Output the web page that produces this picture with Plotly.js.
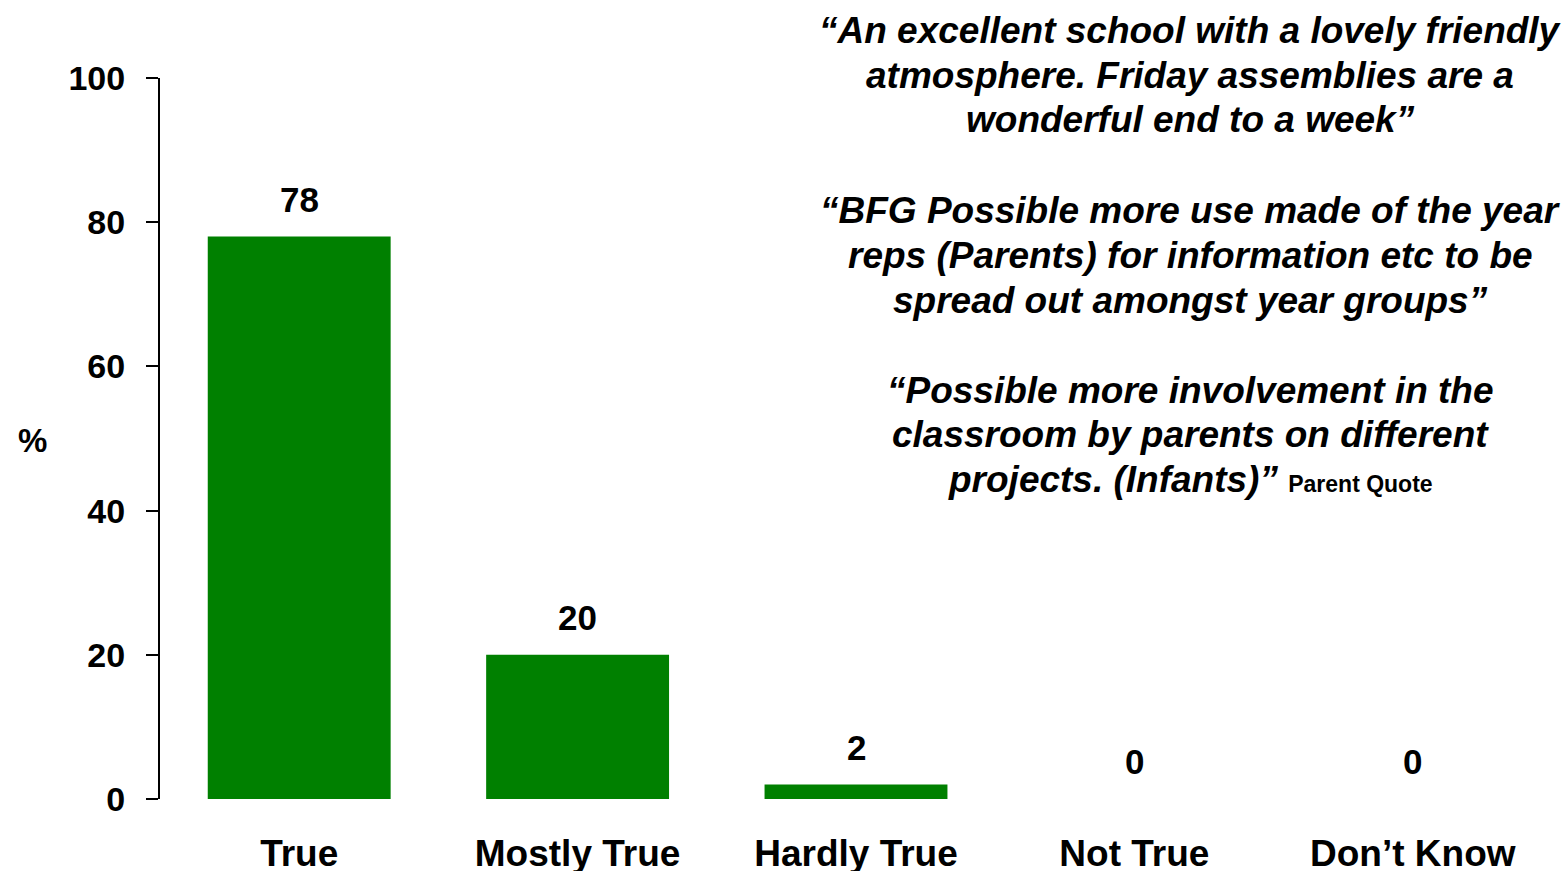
<!DOCTYPE html>
<html>
<head>
<meta charset="utf-8">
<script src="https://cdn.plot.ly/plotly-3.0.1.min.js"></script>
<style>html,body{margin:0;padding:0;background:#fff;}#chart{width:1566px;height:871px;}</style>
</head>
<body>
<div id="chart"></div>
<script>
const categories = ["True", "Mostly True", "Hardly True", "Not True", "Don\u2019t Know"];
const values = [78, 20, 2, 0, 0];
const yTicks = [0, 20, 40, 60, 80, 100];
const quoteLines = [
  "<i>\u201cAn excellent school with a lovely friendly</i>",
  "<i>atmosphere. Friday assemblies are a</i>",
  "<i>wonderful end to a week\u201d</i>",
  "<i>\u201cBFG Possible more use made of the year</i>",
  "<i>reps (Parents) for information etc to be</i>",
  "<i>spread out amongst year groups\u201d</i>",
  "<i>\u201cPossible more involvement in the</i>",
  "<i>classroom by parents on different</i>",
  "<i>projects. (Infants)\u201d</i> <span style=\"font-size:23px\">Parent Quote</span>"
];
const quoteLineY = [30, 75, 120, 210, 255, 300, 390, 434, 479];

const FONT = "Liberation Sans, Arial, sans-serif";
const W = 1566, H = 871;
const m = {l: 160, r: 14, t: 78, b: 72};
const plotH = H - m.t - m.b;
const pyToPaper = py => (H - m.b - py) / plotH;

const annotations = [];
categories.forEach((c, i) => {
  annotations.push({
    x: c, y: values[i], xref: 'x', yref: 'y',
    text: '<b>' + values[i] + '</b>', showarrow: false,
    yanchor: 'bottom', yshift: 16,
    font: {family: FONT, size: 35, color: '#000'}
  });
});
quoteLines.forEach((t, i) => {
  annotations.push({
    x: 1190, xref: 'paper', y: pyToPaper(quoteLineY[i]), yref: 'paper',
    text: '<b>' + t + '</b>', showarrow: false,
    xanchor: 'center', yanchor: 'middle',
    font: {family: FONT, size: 37, color: '#000'}
  });
});
annotations.forEach(a => { if (a.xref === 'paper') a.x = (a.x - m.l) / (W - m.l - m.r); });
annotations.push({
  x: (32 - m.l) / (W - m.l - m.r), xref: 'paper', y: pyToPaper(440), yref: 'paper',
  text: '<b>%</b>', showarrow: false, xanchor: 'center', yanchor: 'middle',
  font: {family: FONT, size: 33, color: '#000'}
});

const trace = {
  type: 'bar', x: categories, y: values,
  marker: {color: '#008000', line: {width: 0}},
  hoverinfo: 'none'
};

const layout = {
  width: W, height: H,
  margin: m,
  paper_bgcolor: '#fff', plot_bgcolor: '#fff',
  showlegend: false,
  bargap: 0.343,
  xaxis: {
    type: 'category', showline: false, ticks: '', showgrid: false, zeroline: false,
    tickfont: {family: FONT, size: 37, color: '#000', weight: 'bold'},
    ticklabelstandoff: 29
  },
  yaxis: {
    range: [0, 100], tickvals: yTicks, ticktext: yTicks.map(String),
    showline: true, linecolor: '#000', linewidth: 2,
    ticks: 'outside', ticklen: 12, tickwidth: 2, tickcolor: '#000',
    showgrid: false, zeroline: false,
    tickfont: {family: FONT, size: 34, color: '#000', weight: 'bold'},
    ticklabelstandoff: 14
  },
  annotations: annotations
};

Plotly.newPlot('chart', [trace], layout, {staticPlot: true, displayModeBar: false});
</script>
</body>
</html>
